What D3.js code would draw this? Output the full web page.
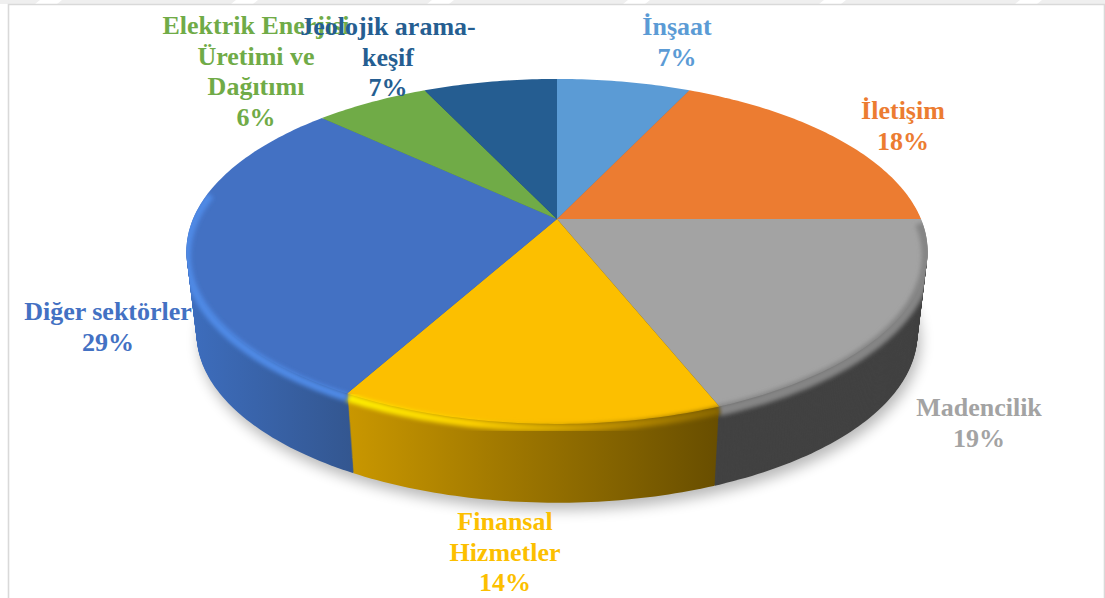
<!DOCTYPE html>
<html>
<head>
<meta charset="utf-8">
<script src="https://cdn.jsdelivr.net/npm/d3@7"></script>
<style>
  html, body { margin: 0; padding: 0; background: #fff; }
  svg { display: block; }
  text { font-family: "Liberation Serif", serif; font-weight: bold; font-size: 26px; text-anchor: middle; }
</style>
</head>
<body>
<svg id="chart" width="1105" height="598"></svg>
<script>
// chart data
const sectors = ['İnşaat', 'İletişim', 'Madencilik', 'Finansal Hizmetler', 'Diğer sektörler', 'Elektrik Enerjisi Üretimi ve Dağıtımı', 'Jeolojik arama-keşif'];
const shares = [7, 18, 19, 14, 29, 6, 7];

// how each label wraps, and where it goes
const labelLines = [['İnşaat'], ['İletişim'], ['Madencilik'], ['Finansal', 'Hizmetler'], ['Diğer sektörler'], ['Elektrik Enerjisi', 'Üretimi ve', 'Dağıtımı'], ['Jeolojik arama-', 'keşif']];
const labelX = [677, 903, 979, 505, 108, 256, 388];
const labelY = [35, 119, 416, 530, 320, 34, 35];
const lineGap = 30.5;

const topColors = ['#5b9bd5', '#ec7c31', '#a3a3a3', '#fcbf00', '#4371c3', '#70ab47', '#255d91'];
const rimColors = ['#5b9bd5', '#b9591c', '#858585', 'url(#goldRim)', '#4f8ae6', '#70ab47', '#255d91'];
const sideColors = ['#3f7ab5', '#b05a20', '#424242', 'url(#goldSide)', 'url(#blueSide)', '#55853a', '#1c4670'];

const svg = d3.select('#chart');
const defs = svg.append('defs');

function hGradient(id, x1, x2, stops) {
    let g = defs.append('linearGradient').attr('id', id)
        .attr('gradientUnits', 'userSpaceOnUse')
        .attr('x1', x1).attr('x2', x2).attr('y1', 0).attr('y2', 0);
    stops.forEach((c, i) => {
        g.append('stop').attr('offset', i / (stops.length - 1)).attr('stop-color', c);
    });
}
hGradient('goldSide', 349, 718, ['#c99700', '#684e00']);
hGradient('goldRim', 349, 718, ['#fff000', '#fdd000', '#c49400', '#8a6800']);
hGradient('blueSide', 190, 355, ['#3d6dbd', '#33568f']);

defs.append('filter').attr('id', 'soft').attr('x', '-10%').attr('y', '-10%').attr('width', '120%').attr('height', '120%')
    .append('feGaussianBlur').attr('stdDeviation', 2);
defs.append('filter').attr('id', 'shadow').attr('x', '-10%').attr('y', '-10%').attr('width', '120%').attr('height', '120%')
    .append('feGaussianBlur').attr('stdDeviation', 7);

// page frame and the faint band above it
svg.append('rect').attr('x', 0).attr('y', 0).attr('width', 1105).attr('height', 4).attr('fill', '#efefef');
d3.range(40, 1105, 196).forEach(x => {
    svg.append('path').attr('d', `M${x},0h22l-5,4h-22z`).attr('fill', '#fff');
});
svg.append('path').attr('d', 'M8.5,598V4.5H1104.5V598').attr('fill', 'none').attr('stroke', '#d9d9d9').attr('stroke-width', 1.6);

// perspective projection of the tilted disc, t = 0 top face, t = 1 bottom face
const depth = {
    a: d3.scaleLinear().domain([0, 1]).range([364, 354]),
    y0: d3.scaleLinear().domain([0, 1]).range([219, 302]),
    b: d3.scaleLinear().domain([0, 1]).range([166.4, 163])
};
const cx = 557, k = 0.188;

function project(angle, t) {
    let u = Math.sin(angle), v = -Math.cos(angle);
    let w = 1 - k * v;
    return [cx + depth.a(t) * u / w, depth.y0(t) + depth.b(t) * v / w];
}

function arcPoints(d, t) {
    let n = Math.max(2, Math.ceil((d.endAngle - d.startAngle) * 60));
    return d3.range(n + 1).map(i => project(d.startAngle + (d.endAngle - d.startAngle) * i / n, t));
}

function wedge(d, t) {
    return line([[cx, depth.y0(t)]].concat(arcPoints(d, t))) + 'Z';
}

const pie = d3.pie().sort(null).value(d => d);
const slices = pie(shares);
const line = d3.line();

// shadow under the pie
const whole = { startAngle: 0, endAngle: 2 * Math.PI };
svg.append('path')
    .attr('d', line(arcPoints(whole, 1)) + 'Z')
    .attr('transform', 'translate(3,7)')
    .attr('fill', '#000').attr('opacity', 0.28)
    .attr('filter', 'url(#shadow)');

// the body is a stack of wedges from the bottom face up, that way the silhouette comes out right
d3.range(1, 0, -0.0125).forEach(t => {
    slices.forEach((d, i) => {
        svg.append('path').attr('d', wedge(d, t)).attr('fill', sideColors[i]);
    });
});

// top faces
slices.forEach((d, i) => {
    svg.append('path')
        .attr('class', 'slice')
        .attr('d', wedge(d, 0))
        .attr('fill', topColors[i]);
});

// clip to the body so the soft bevel does not bleed out
const bodyClip = defs.append('clipPath').attr('id', 'body');
d3.range(0, 0.5, 0.02).forEach(t => {
    bodyClip.append('path').attr('d', line(arcPoints(whole, t)) + 'Z');
});

// soft bevel, front part of the rim only
const rimFrom = 90 * Math.PI / 180, rimTo = 280 * Math.PI / 180;
const rim = svg.append('g').attr('clip-path', 'url(#body)');
slices.forEach((d, i) => {
    let s = Math.max(d.startAngle, rimFrom), e = Math.min(d.endAngle, rimTo);
    if (e <= s) return;
    rim.append('path')
        .attr('d', line(arcPoints({ startAngle: s, endAngle: e }, 0.05)))
        .attr('fill', 'none')
        .attr('stroke', rimColors[i])
        .attr('stroke-width', i === 2 ? 11 : 8)
        .attr('filter', 'url(#soft)');
});

// labels sit on top, Jeolojik over Elektrik as in the source
slices.forEach((d, i) => {
    let label = svg.append('text').attr('fill', i === 6 ? '#255e91' : topColors[i]);
    labelLines[i].concat([shares[i] + '%']).forEach((txt, j) => {
        label.append('tspan')
            .attr('x', labelX[i])
            .attr('y', labelY[i] + j * lineGap)
            .text(txt);
    });
});
</script>
</body>
</html>
